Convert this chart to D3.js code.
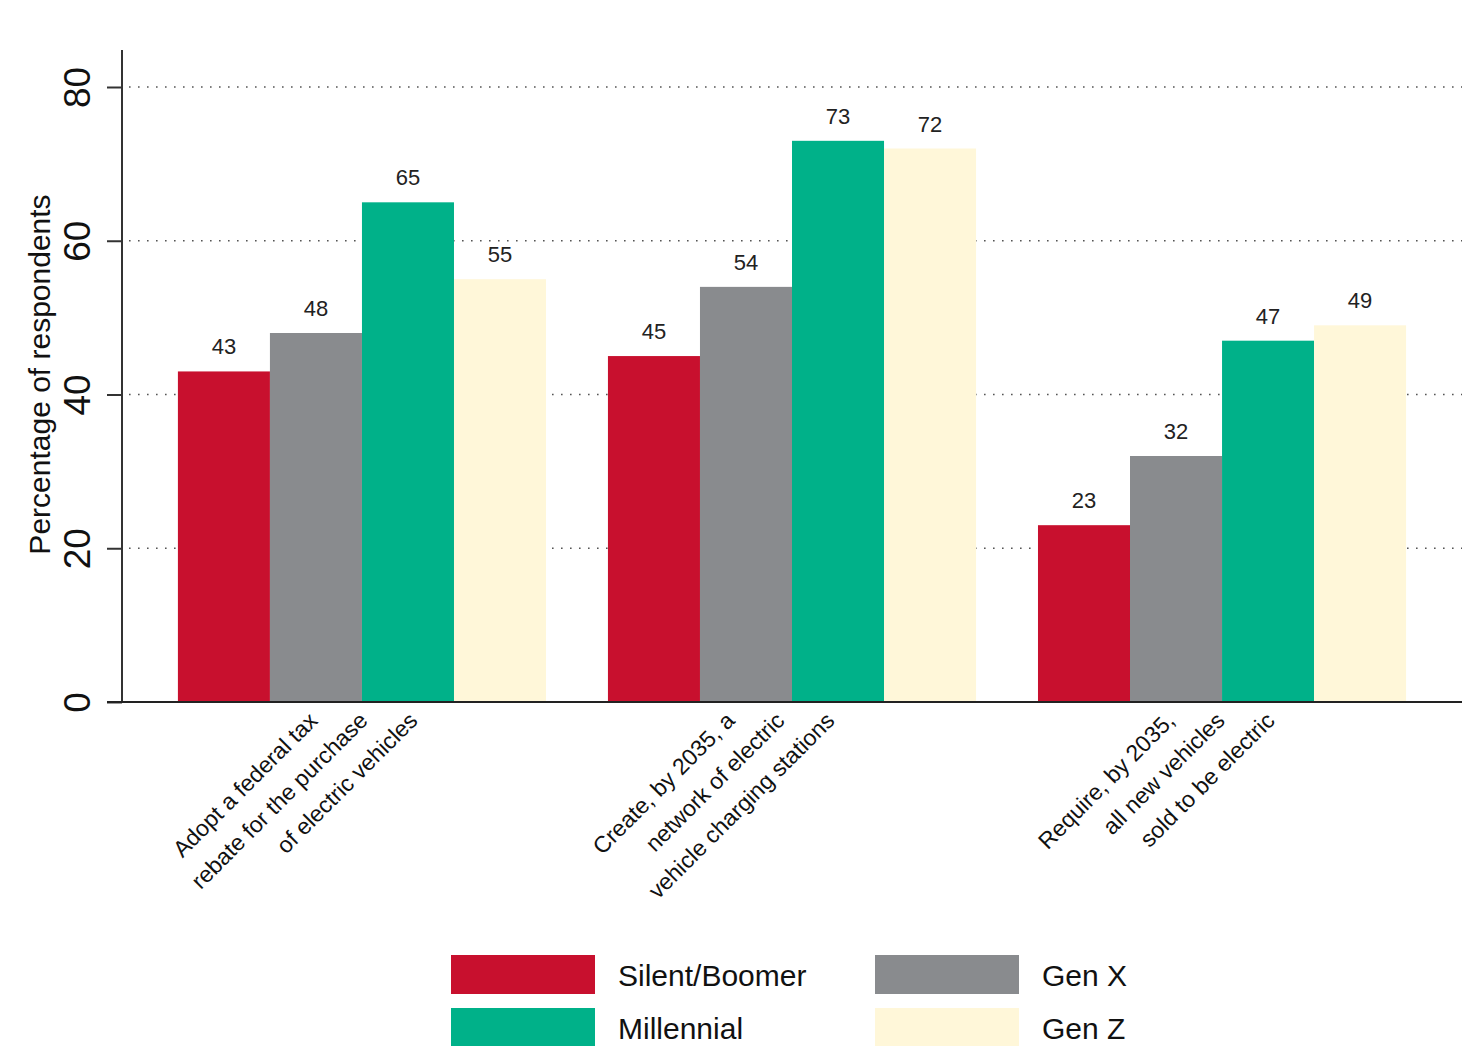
<!DOCTYPE html>
<html>
<head>
<meta charset="utf-8">
<script src="https://cdn.jsdelivr.net/npm/d3@7"></script>
<style>
  html, body { margin: 0; padding: 0; background: #ffffff; }
  svg { display: block; font-family: "Liberation Sans", Arial, Helvetica, sans-serif; }
</style>
</head>
<body>
<svg id="chart" width="1467" height="1046"></svg>
<script>
// Policy options (each label split into its printed lines)
const categories = [
  ["Adopt a federal tax", "rebate for the purchase", "of electric vehicles"],
  ["Create, by 2035, a", "network of electric", "vehicle charging stations"],
  ["Require, by 2035,", "all new vehicles", "sold to be electric"]
];
const generations = ["Silent/Boomer", "Gen X", "Millennial", "Gen Z"];
// Percentage of respondents supporting each option, per generation
const silentBoomer = [43, 45, 23];
const genX = [48, 54, 32];
const millennial = [65, 73, 47];
const genZ = [55, 72, 49];
const yTicks = [0, 20, 40, 60, 80];
const colors = ["#c8102e", "#898b8e", "#00b189", "#fff7d9"];

// small horizontal nudges for the slanted category labels
const labelNudge = [3, -10, 0];

const series = [silentBoomer, genX, millennial, genZ];
const svg = d3.select("#chart");

const plot = { left: 122, right: 1462, top: 50, bottom: 702 };

const y = d3.scaleLinear().domain([0, 80]).range([plot.bottom, 87]);
const x0 = d3.scaleBand()
  .domain(d3.range(categories.length))
  .range([plot.left, plot.right])
  .paddingInner(0.144)
  .paddingOuter(0.13);
const x1 = d3.scaleBand()
  .domain(d3.range(generations.length))
  .range([0, x0.bandwidth()])
  .padding(0);

// dotted horizontal grid
svg.append("g")
  .selectAll("line")
  .data(yTicks)
  .join("line")
  .attr("x1", plot.left + 7)
  .attr("x2", plot.right)
  .attr("y1", d => y(d))
  .attr("y2", d => y(d))
  .attr("stroke", "#555")
  .attr("stroke-width", 1.6)
  .attr("stroke-dasharray", "1.6,7.4");

// bars
const groups = svg.append("g")
  .selectAll("g")
  .data(categories)
  .join("g")
  .attr("transform", (d, i) => `translate(${x0(i)},0)`);

groups.each(function (cat, ci) {
  const g = d3.select(this);
  const vals = series.map(s => s[ci]);
  g.selectAll("rect")
    .data(vals)
    .join("rect")
    .attr("x", (d, si) => x1(si))
    .attr("width", x1.bandwidth())
    .attr("y", d => y(d))
    .attr("height", d => y(0) - y(d))
    .attr("fill", (d, si) => colors[si]);
  g.selectAll("text.value")
    .data(vals)
    .join("text")
    .attr("class", "value")
    .attr("x", (d, si) => x1(si) + x1.bandwidth() / 2)
    .attr("y", d => y(d) - 17)
    .attr("text-anchor", "middle")
    .attr("font-size", 22)
    .attr("fill", "#222")
    .text(d => d);
});

// y axis
const yAxis = d3.axisLeft(y).tickValues(yTicks).tickSize(15).tickPadding(0).tickFormat(d3.format("d"));
const yg = svg.append("g").attr("transform", `translate(${plot.left},0)`).call(yAxis);
yg.select(".domain").remove();
yg.selectAll(".tick line").attr("stroke", "#333").attr("stroke-width", 2);
yg.selectAll(".tick text")
  .attr("x", null).attr("dy", null)
  .attr("text-anchor", "middle")
  .attr("font-size", 37)
  .attr("font-family", "Liberation Sans, Arial, sans-serif")
  .attr("fill", "#111")
  .attr("transform", "translate(-32,0) rotate(-90)");
svg.append("line")
  .attr("x1", plot.left).attr("x2", plot.left)
  .attr("y1", plot.top).attr("y2", plot.bottom)
  .attr("stroke", "#333").attr("stroke-width", 2);

// baseline
svg.append("line")
  .attr("x1", plot.left - 15).attr("x2", plot.right)
  .attr("y1", y(0)).attr("y2", y(0))
  .attr("stroke", "#222").attr("stroke-width", 2);

// y axis title
svg.append("text")
  .attr("transform", `translate(50,${(y(0) + y(80)) / 2 - 20}) rotate(-90)`)
  .attr("text-anchor", "middle")
  .attr("font-size", 30)
  .attr("fill", "#111")
  .text("Percentage of respondents");

// category labels: slanted lines, each ending under its group
const lineStep = 50;
svg.append("g")
  .selectAll("g")
  .data(categories)
  .join("g")
  .each(function (lines, ci) {
    const cx = x0(ci) + x0.bandwidth() / 2 + labelNudge[ci];
    d3.select(this).selectAll("text")
      .data(lines)
      .join("text")
      .attr("transform", (d, li) => `translate(${cx - 46 + li * lineStep},722) rotate(-45)`)
      .attr("text-anchor", "end")
      .attr("font-size", 23)
      .attr("fill", "#111")
      .text(d => d);
  });

// legend
const legend = svg.append("g").attr("transform", "translate(451,955)");
const leg = legend.selectAll("g")
  .data(generations)
  .join("g")
  .attr("transform", (d, i) => `translate(${(i % 2) * 424},${Math.floor(i / 2) * 53})`);
leg.append("rect")
  .attr("width", 144).attr("height", 39)
  .attr("fill", (d, i) => colors[i]);
leg.append("text")
  .attr("x", 167).attr("y", 31)
  .attr("font-size", 30)
  .attr("fill", "#111")
  .text(d => d);
</script>
</body>
</html>
